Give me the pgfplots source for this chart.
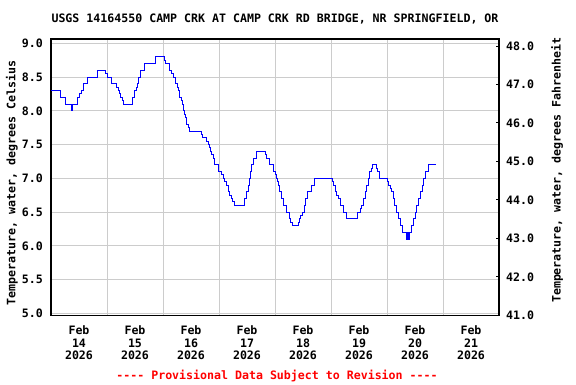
\documentclass[border=0pt]{standalone}
\usepackage{fontspec}
\setmainfont{DejaVu Sans Mono}[Ligatures=TeXOff]
\usepackage{pgfplots}
\usepackage{pgfplotstable}
\pgfplotsset{compat=1.18}
\newcommand{\uf}{\fontsize{11.6}{12.8}\selectfont\bfseries}
\definecolor{gridgray}{RGB}{204,204,204}
\definecolor{usgsblue}{RGB}{0,0,255}
\definecolor{usgsred}{RGB}{255,0,0}

\pgfplotstableread{
d v
0.000 8.30
0.167 8.20
0.262 8.10
0.363 8.00
0.390 8.10
0.476 8.20
0.506 8.25
0.548 8.30
0.577 8.40
0.643 8.50
0.827 8.60
0.970 8.55
1.000 8.50
1.077 8.40
1.161 8.35
1.202 8.30
1.226 8.25
1.244 8.20
1.268 8.15
1.298 8.10
1.446 8.20
1.488 8.30
1.524 8.35
1.536 8.40
1.554 8.50
1.589 8.60
1.673 8.70
1.857 8.80
2.018 8.75
2.042 8.70
2.113 8.60
2.155 8.55
2.179 8.50
2.220 8.40
2.250 8.35
2.274 8.30
2.298 8.20
2.321 8.15
2.345 8.10
2.363 8.00
2.381 7.95
2.399 7.90
2.417 7.80
2.452 7.75
2.470 7.70
2.685 7.65
2.708 7.60
2.780 7.55
2.810 7.50
2.827 7.45
2.845 7.40
2.870 7.35
2.899 7.30
2.911 7.20
2.988 7.10
3.048 7.05
3.077 7.00
3.104 6.95
3.131 6.90
3.167 6.80
3.193 6.75
3.220 6.70
3.247 6.65
3.274 6.60
3.452 6.70
3.494 6.80
3.524 6.90
3.536 7.00
3.560 7.10
3.583 7.20
3.613 7.30
3.661 7.40
3.833 7.35
3.851 7.30
3.899 7.20
3.970 7.10
4.006 7.05
4.018 7.00
4.036 6.95
4.054 6.90
4.077 6.80
4.113 6.70
4.149 6.60
4.208 6.50
4.256 6.40
4.274 6.35
4.310 6.30
4.417 6.35
4.435 6.40
4.458 6.45
4.488 6.50
4.518 6.60
4.548 6.70
4.583 6.80
4.643 6.90
4.702 7.00
5.024 6.95
5.042 6.90
5.077 6.80
5.104 6.75
5.131 6.70
5.161 6.60
5.220 6.50
5.280 6.40
5.470 6.50
5.518 6.55
5.548 6.60
5.577 6.70
5.607 6.80
5.637 6.90
5.667 7.00
5.685 7.10
5.720 7.15
5.738 7.20
5.815 7.15
5.833 7.10
5.863 7.00
6.006 6.95
6.030 6.90
6.054 6.85
6.077 6.80
6.107 6.70
6.137 6.60
6.173 6.50
6.208 6.40
6.232 6.30
6.274 6.20
6.339 6.10
6.351 6.20
6.357 6.10
6.369 6.20
6.375 6.10
6.387 6.20
6.399 6.10
6.405 6.20
6.435 6.30
6.470 6.40
6.500 6.50
6.530 6.60
6.565 6.70
6.601 6.80
6.637 6.90
6.655 7.00
6.685 7.10
6.744 7.20
6.869 7.20
}\tempdata

\begin{document}
\begin{tikzpicture}
\useasboundingbox (-51pt,-68.7pt) rectangle (525pt,315.3pt);
\begin{axis}[
  at={(0pt,0pt)}, anchor=south west,
  scale only axis, width=448pt, height=276.3pt,
  xmin=0, xmax=8, ymin=4.970, ymax=9.064,
  xtick={0.5,1.5,...,7.5},
  xticklabels={{Feb\\14\\2026},{Feb\\15\\2026},{Feb\\16\\2026},{Feb\\17\\2026},{Feb\\18\\2026},{Feb\\19\\2026},{Feb\\20\\2026},{Feb\\21\\2026}},
  minor xtick={1,2,3,4,5,6,7},
  xminorgrids, ymajorgrids,
  ytick={5,5.5,6,6.5,7,7.5,8,8.5,9},
  major tick length=0pt, minor tick length=0pt,
  grid style={gridgray, line width=0.9pt},
  minor grid style={gridgray, line width=0.9pt},
  axis line style={black, line width=1.1pt},
  xticklabel style={font=\uf, align=center, inner sep=0pt, yshift=-10pt},
  yticklabel style={font=\uf, inner sep=0pt, xshift=-8pt,
    /pgf/number format/.cd, fixed, fixed zerofill, precision=1, assume math mode=true},
  ylabel={Temperature, water, degrees Celsius},
  ylabel style={font=\uf, at={(axis description cs:-0.0871,0.479)}, anchor=center},
]
\addplot[const plot, usgsblue, line width=0.9pt] table[x=d, y=v] {\tempdata};
\end{axis}
\begin{axis}[
  at={(0pt,0pt)}, anchor=south west,
  scale only axis, width=448pt, height=276.3pt,
  xmin=0, xmax=8, ymin=41, ymax=48.18,
  hide x axis,
  axis y line*=right,
  axis line style={black, line width=1.1pt, -},
  ytick={41,42,43,44,45,46,47,48},
  tick align=inside,
  major tick length=3pt,
  tick style={black, line width=0.8pt},
  yticklabel style={font=\uf, inner sep=0pt, xshift=7pt,
    /pgf/number format/.cd, fixed, fixed zerofill, precision=1, assume math mode=true},
  ylabel={Temperature, water, degrees Fahrenheit},
  ylabel style={font=\uf, at={(axis description cs:1.1295,0.525)}, anchor=center, rotate=0},
]
\addplot[draw=none, forget plot] coordinates {(0,41) (8,48)};
\end{axis}
\node[font=\uf, anchor=base, inner sep=0pt] at (224pt,293pt) {USGS 14164550 CAMP CRK AT CAMP CRK RD BRIDGE, NR SPRINGFIELD, OR};
\node[font=\uf, anchor=base, inner sep=0pt, text=usgsred] at (226pt,-63.7pt) {---- Provisional Data Subject to Revision ----};
\end{tikzpicture}
\end{document}
